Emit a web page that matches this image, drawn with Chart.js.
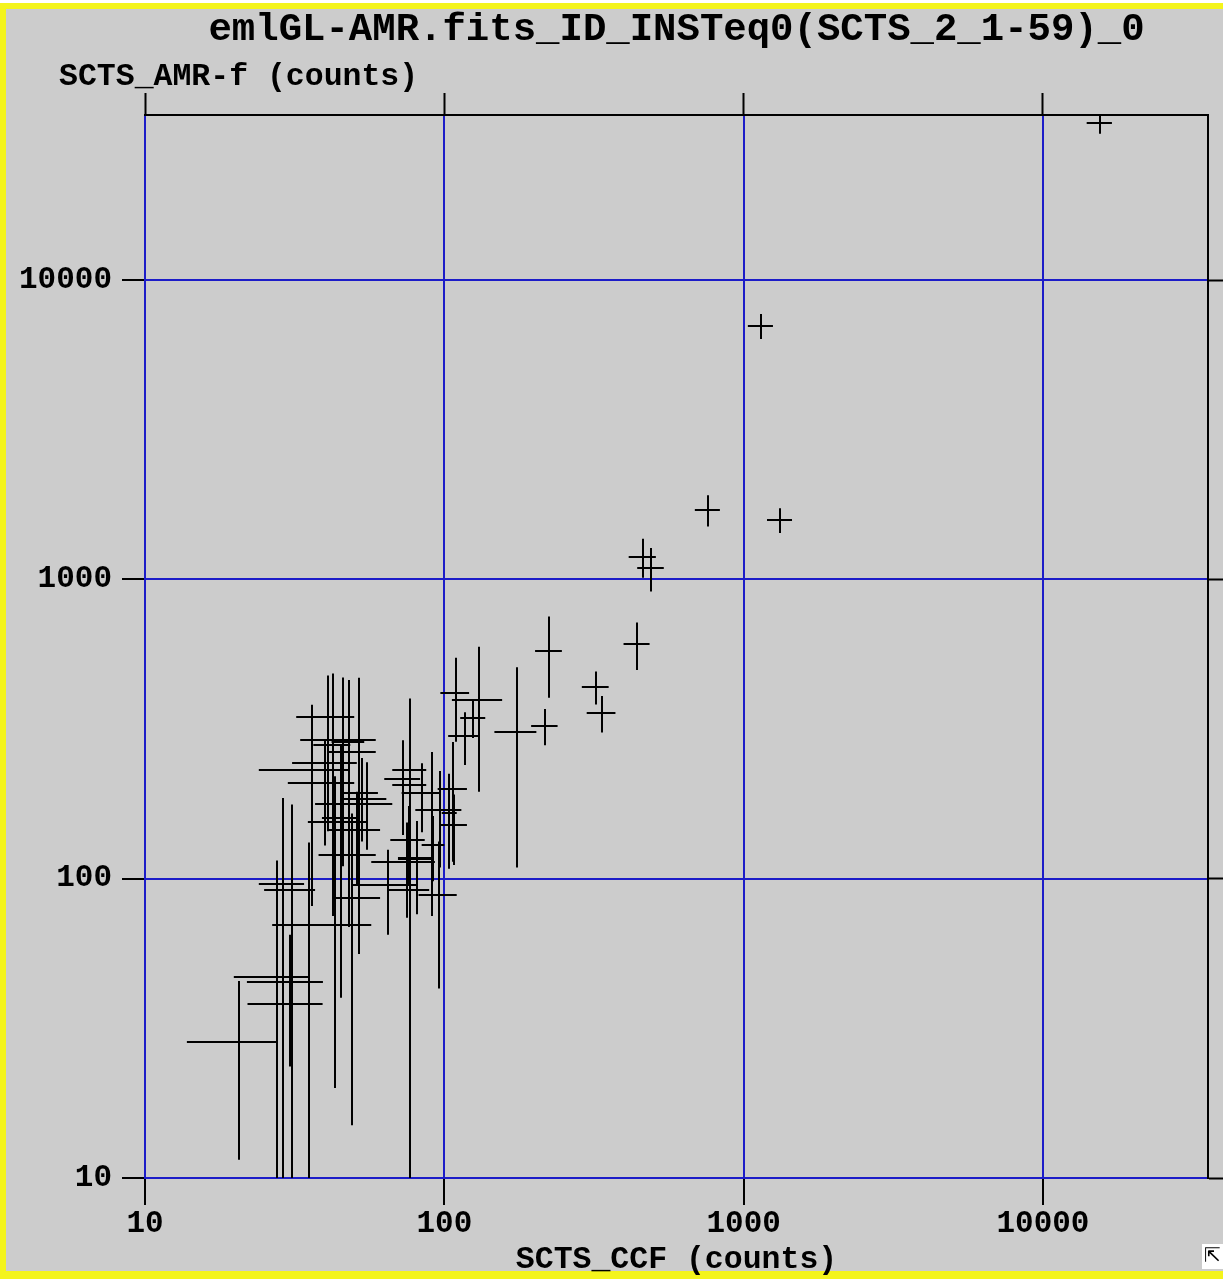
<!DOCTYPE html>
<html>
<head>
<meta charset="utf-8">
<title>emlGL-AMR.fits_ID_INSTeq0(SCTS_2_1-59)_0</title>
<script src="https://cdn.jsdelivr.net/npm/chart.js@4.4.1/dist/chart.umd.min.js"></script>
<style>
  html, body { margin: 0; padding: 0; background: #ffffff; }
  #wrap { width: 1223px; height: 1279px; }
</style>
</head>
<body>
<div id="wrap"><canvas id="plot"></canvas></div>
<script>
// SCTS_CCF (x) vs SCTS_AMR-f (y), counts, with symmetric errors
const ccf    = [15500, 1143, 760, 1324, 461, 491, 441, 224, 321, 336,
                217, 175, 131, 109, 125, 117, 104, 107, 108, 92,
                91, 77, 73, 84, 76, 81, 96, 77, 65, 81,
                52, 49, 52, 42.5, 48, 77, 41, 36, 46, 48,
                41, 40, 53, 55, 52, 45, 51, 49, 75, 97,
                20.6, 27.5, 30.6, 30.6, 35.3, 29, 31, 45, 43];
const ccfErr = [1500, 110, 73, 127, 48, 50, 44, 23, 33, 37,
                22, 28, 25, 12, 12, 14, 6, 12, 11, 8,
                10, 10, 10, 12, 10, 11, 14, 12, 16, 11,
                9, 8, 7, 6, 7, 10, 9, 12, 13, 6,
                10, 10, 7, 9, 15, 10, 10, 10, 18, 17,
                6.8, 7.7, 8.6, 8.7, 8.7, 5, 6, 6, 5];
const amr    = [33500, 7030, 1706, 1578, 1189, 1092, 608, 577, 437, 358,
                324, 309, 395, 417, 345, 300, 166, 200, 151, 130,
                170, 205, 215, 193, 135, 117, 88, 92, 95, 116,
                86, 70, 264, 280, 265, 230, 347, 231, 290, 286,
                244, 209, 193, 185, 178, 155, 145, 120, 114, 169,
                28.5, 47, 38, 45, 70, 96, 92, 160, 120];
const amrErr = [2700, 670, 205, 150, 177, 181, 110, 175, 55, 50,
                45, 200, 200, 130, 50, 60, 58, 86, 40, 32,
                95, 110, 75, 50, 40, 35, 45, 85, 30, 40,
                30, 55, 205, 205, 196, 170, 130, 150, 180, 80,
                100, 80, 60, 60, 90, 65, 50, 45, 40, 60,
                17, 68, 14.4, 20, 62, 90, 85, 120, 100];
const decadeTicks = [10, 100, 1000, 10000];
const axisMin = 10;
const axisMax = 35600;

const MONO = '"Liberation Mono", "DejaVu Sans Mono", monospace';
const BLUE = '#1c1cc8';

// gray panel with the yellow frame
const panel = {
  id: 'panel',
  beforeDraw(chart) {
    const ctx = chart.ctx;
    const w = chart.width, h = chart.height;
    ctx.save();
    ctx.fillStyle = '#ffffff';
    ctx.fillRect(0, 0, w, h);
    ctx.fillStyle = '#f4f41c';
    ctx.fillRect(0, 3, w, h - 3);
    ctx.fillStyle = '#cccccc';
    ctx.fillRect(6, 9, w - 6, h - 9 - 8);
    ctx.restore();
  }
};

// crosses: x and y error bars around every point
const errorBars = {
  id: 'errorBars',
  afterDatasetsDraw(chart) {
    const {ctx, chartArea, scales} = chart;
    const x = scales.x, y = scales.y;
    ctx.save();
    ctx.beginPath();
    ctx.rect(chartArea.left, chartArea.top, chartArea.right - chartArea.left, chartArea.bottom - chartArea.top);
    ctx.clip();
    ctx.strokeStyle = '#000000';
    ctx.lineWidth = 2;
    ctx.beginPath();
    for (let i = 0; i < ccf.length; i++) {
      const px = Math.round(x.getPixelForValue(ccf[i]));
      const py = Math.round(y.getPixelForValue(amr[i]));
      const x0 = x.getPixelForValue(Math.max(ccf[i] - ccfErr[i], 1));
      const x1 = x.getPixelForValue(ccf[i] + ccfErr[i]);
      const y0 = y.getPixelForValue(Math.max(amr[i] - amrErr[i], 1));
      const y1 = y.getPixelForValue(amr[i] + amrErr[i]);
      ctx.moveTo(x0, py);
      ctx.lineTo(x1, py);
      ctx.moveTo(px, y0);
      ctx.lineTo(px, y1);
    }
    ctx.stroke();
    ctx.restore();
  }
};

// y axis name sits above the plot, plus the little corner box
const extras = {
  id: 'extras',
  afterDraw(chart) {
    const {ctx, chartArea} = chart;
    ctx.save();
    ctx.fillStyle = '#000000';
    ctx.font = 'bold 31.5px ' + MONO;
    ctx.textAlign = 'left';
    ctx.textBaseline = 'middle';
    ctx.fillText('SCTS_AMR-f (counts)', chartArea.left - 86, chartArea.top - 38);

    ctx.fillStyle = '#ffffff';
    ctx.fillRect(1202, 1244, 21, 25);
    ctx.fillStyle = '#000000';
    ctx.font = '20px "DejaVu Sans"';
    ctx.fillText('\u21F1', 1204, 1257);
    ctx.restore();
  }
};

function decades(axis) {
  axis.ticks = decadeTicks.map(v => ({value: v}));
}

function logAxis(position, extra) {
  return Object.assign({
    type: 'logarithmic',
    position: position,
    min: axisMin,
    max: axisMax,
    afterBuildTicks: decades
  }, extra);
}

const tickFont = {family: MONO, size: 31, weight: 'bold', lineHeight: 1};
const nameFont = {family: MONO, size: 31.5, weight: 'bold', lineHeight: 1};

new Chart(document.getElementById('plot'), {
  type: 'scatter',
  data: {
    datasets: [{
      label: 'SCTS_AMR-f vs SCTS_CCF',
      data: ccf.map((v, i) => ({x: v, y: amr[i]})),
      pointRadius: 0,
      pointHoverRadius: 0,
      showLine: false
    }]
  },
  options: {
    responsive: true,
    maintainAspectRatio: false,
    devicePixelRatio: 1,
    animation: false,
    layout: {padding: {left: 9, bottom: 3.5, top: 0, right: 0}},
    plugins: {
      legend: {display: false},
      tooltip: {enabled: false},
      title: {
        display: true,
        text: 'emlGL-AMR.fits_ID_INSTeq0(SCTS_2_1-59)_0',
        fullSize: false,
        color: '#000000',
        font: {family: MONO, size: 39, weight: 'bold', lineHeight: 1},
        padding: {top: 11, bottom: 43}
      }
    },
    scales: {
      x: logAxis('bottom', {
        ticks: {
          font: tickFont, color: '#000000', padding: 4,
          autoSkip: false, maxRotation: 0,
          callback: v => String(v)
        },
        grid: {color: BLUE, lineWidth: 2, tickColor: '#000000', tickWidth: 2, tickLength: 27},
        border: {color: BLUE, width: 2},
        title: {
          display: true, text: 'SCTS_CCF (counts)', color: '#000000',
          font: nameFont, padding: {top: 0, bottom: 0}
        }
      }),
      y: logAxis('left', {
        ticks: {
          font: tickFont, color: '#000000', padding: 10,
          autoSkip: false,
          callback: v => String(v)
        },
        grid: {color: BLUE, lineWidth: 2, tickColor: '#000000', tickWidth: 2, tickLength: 23},
        border: {color: BLUE, width: 2}
      }),
      xTop: logAxis('top', {
        ticks: {display: false},
        grid: {drawOnChartArea: false, color: '#000000', tickColor: '#000000', tickWidth: 2, tickLength: 22},
        border: {color: '#000000', width: 2}
      }),
      yRight: logAxis('right', {
        ticks: {display: false},
        grid: {drawOnChartArea: false, color: '#000000', tickColor: '#000000', tickWidth: 2, tickLength: 15},
        border: {color: '#000000', width: 2}
      })
    }
  },
  plugins: [panel, errorBars, extras]
});
</script>
</body>
</html>
